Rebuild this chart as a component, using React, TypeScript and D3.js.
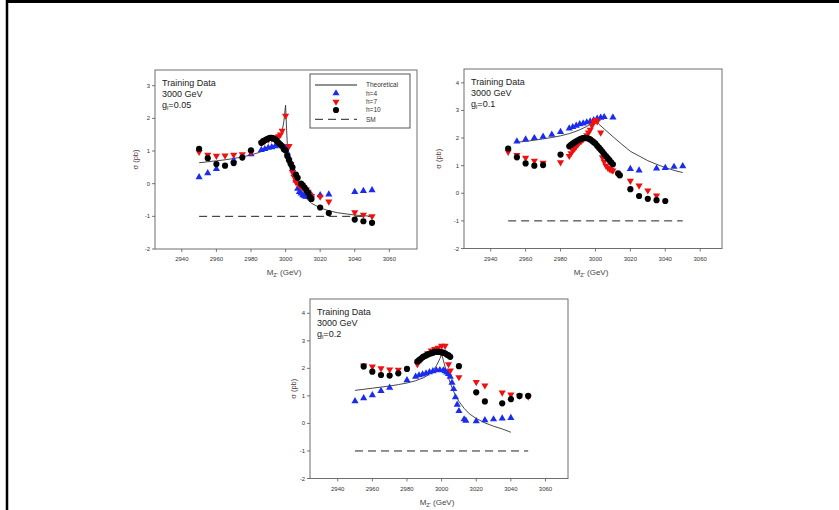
import React from 'react';
import * as d3 from 'd3';

type P = [number, number];

const xTicks = [2940, 2960, 2980, 3000, 3020, 3040, 3060];
const yTicks1 = [-2, -1, 0, 1, 2, 3];
const yTicks23 = [-2, -1, 0, 1, 2, 3, 4];
const smRange: P[] = [[2950, -1], [3050, -1]];

// ---- Panel 1 : g_l = 0.05 ----
const p1Theory: P[] = [[2950,0.64],[2955,0.67],[2960,0.70],[2965,0.73],[2970,0.77],[2975,0.82],[2980,0.88],[2985,0.96],[2990,1.07],[2993,1.17],[2995,1.27],[2997,1.45],[2998,1.6],[2999,1.9],[3000,2.4],[3000.5,1.8],[3001,1.2],[3002,0.85],[3003,0.6],[3004,0.4],[3006,0.08],[3008,-0.16],[3010,-0.33],[3012,-0.46],[3015,-0.6],[3020,-0.74],[3025,-0.83],[3030,-0.89],[3040,-0.96],[3050,-1.0]];
const p1H4: P[] = [[2950,0.2],[2955,0.32],[2960,0.45],[2970,0.72],[2980,0.9],[2986,1.03],[2988,1.06],[2990,1.1],[2992,1.12],[2994,1.15],[2996,1.18],[2998,1.15],[3000,1.1],[3001,0.95],[3002,0.8],[3003,0.65],[3004,0.45],[3005,0.3],[3006,0.1],[3007,-0.15],[3008,-0.25],[3009,-0.3],[3010,-0.35],[3011,-0.38],[3012,-0.4],[3013,-0.38],[3014,-0.35],[3015,-0.35],[3020,-0.35],[3025,-0.33],[3040,-0.25],[3045,-0.22],[3050,-0.2]];
const p1H7: P[] = [[2950,0.97],[2955,0.88],[2960,0.85],[2965,0.86],[2970,0.88],[2975,0.9],[2980,0.95],[2986,1.25],[2988,1.3],[2990,1.35],[2992,1.38],[2994,1.42],[2996,1.45],[2997,1.5],[2998,1.62],[3000,2.08],[3002,1.15],[3003,0.6],[3004,0.35],[3005,0.2],[3006,0.05],[3007,0.0],[3008,-0.05],[3009,-0.08],[3010,-0.12],[3012,-0.18],[3013,-0.25],[3014,-0.35],[3015,-0.38],[3020,-0.4],[3025,-0.55],[3040,-0.88],[3045,-0.95],[3050,-1.0]];
const p1H10: P[] = [[2950,1.07],[2955,0.78],[2960,0.6],[2965,0.55],[2970,0.63],[2975,0.8],[2980,1.02],[2986,1.25],[2987,1.3],[2988,1.33],[2989,1.36],[2990,1.38],[2991,1.4],[2992,1.4],[2993,1.38],[2994,1.36],[2995,1.3],[2996,1.25],[2997,1.2],[2998,1.15],[2999,1.05],[3000,1.02],[3001,0.85],[3002,0.72],[3003,0.6],[3004,0.5],[3006,0.28],[3007,0.18],[3009,0.0],[3010,-0.05],[3011,-0.12],[3012,-0.2],[3013,-0.28],[3014,-0.4],[3015,-0.47],[3020,-0.73],[3025,-0.9],[3040,-1.1],[3045,-1.15],[3050,-1.2]];

// ---- Panel 2 : g_l = 0.1 ----
const p2Theory: P[] = [[2955,1.85],[2960,1.88],[2965,1.92],[2970,1.97],[2975,2.02],[2980,2.08],[2985,2.16],[2990,2.27],[2995,2.42],[2998,2.54],[3000,2.63],[3002,2.5],[3005,2.33],[3010,2.05],[3015,1.78],[3020,1.52],[3025,1.35],[3030,1.18],[3035,1.05],[3040,0.93],[3045,0.83],[3050,0.75]];
const p2H4: P[] = [[2955,1.88],[2960,1.95],[2965,2.0],[2970,2.05],[2975,2.12],[2980,2.22],[2985,2.35],[2987,2.4],[2989,2.45],[2991,2.5],[2993,2.53],[2995,2.57],[2997,2.6],[2999,2.65],[3001,2.7],[3003,2.74],[3005,2.76],[3010,2.75],[3020,0.88],[3025,0.83],[3035,0.9],[3040,0.92],[3045,0.96],[3050,0.98]];
const p2H7: P[] = [[2950,1.5],[2955,1.38],[2960,1.28],[2965,1.18],[2970,1.1],[2980,1.12],[2985,1.35],[2986,1.45],[2987,1.55],[2988,1.62],[2989,1.7],[2990,1.78],[2991,1.85],[2992,1.9],[2993,1.96],[2994,2.02],[2995,2.1],[2996,2.2],[2997,2.3],[2998,2.45],[2999,2.58],[3000,2.65],[3001,2.6],[3003,2.2],[3004,1.3],[3005,1.15],[3006,1.0],[3007,0.93],[3008,0.88],[3009,0.85],[3010,0.82],[3013,0.68],[3020,0.45],[3025,0.28],[3030,0.1],[3035,-0.08]];
const p2H10: P[] = [[2950,1.62],[2955,1.3],[2960,1.08],[2965,1.0],[2970,1.02],[2980,1.4],[2985,1.7],[2986,1.75],[2987,1.8],[2988,1.84],[2989,1.88],[2990,1.92],[2991,1.95],[2992,1.98],[2993,2.0],[2994,2.0],[2995,2.0],[2996,1.98],[2997,1.95],[2998,1.9],[2999,1.85],[3000,1.8],[3001,1.72],[3002,1.65],[3003,1.58],[3004,1.5],[3005,1.42],[3006,1.35],[3007,1.27],[3008,1.2],[3009,1.12],[3010,1.05],[3013,0.72],[3014,0.65],[3020,0.15],[3025,-0.1],[3030,-0.2],[3035,-0.25],[3040,-0.28]];

// ---- Panel 3 : g_l = 0.2 ----
const p3Theory: P[] = [[2950,1.2],[2955,1.24],[2960,1.28],[2965,1.32],[2970,1.36],[2975,1.41],[2980,1.47],[2985,1.55],[2990,1.67],[2993,1.8],[2995,1.92],[2997,2.1],[2999,2.35],[3000,2.52],[3001,2.3],[3002,2.05],[3004,1.65],[3006,1.3],[3008,1.02],[3010,0.8],[3013,0.55],[3016,0.35],[3020,0.18],[3025,0.02],[3030,-0.1],[3035,-0.2],[3040,-0.32]];
const p3H4: P[] = [[2950,0.81],[2955,0.92],[2960,1.03],[2965,1.18],[2970,1.3],[2980,1.57],[2985,1.7],[2987,1.75],[2989,1.78],[2991,1.82],[2993,1.86],[2995,1.9],[2997,1.93],[2999,1.94],[3001,1.93],[3002,1.9],[3003,1.85],[3004,1.8],[3005,1.7],[3006,1.48],[3007,1.25],[3008,0.95],[3009,0.68],[3010,0.45],[3013,0.15],[3014,0.1],[3020,0.08],[3025,0.12],[3030,0.15],[3035,0.18],[3040,0.2]];
const p3H7: P[] = [[2955,2.1],[2960,2.07],[2965,2.0],[2970,1.96],[2975,1.95],[2986,2.15],[2988,2.3],[2990,2.45],[2992,2.55],[2994,2.65],[2996,2.7],[2998,2.75],[3000,2.82],[3002,2.82],[3004,2.15],[3005,1.92],[3010,1.68],[3020,1.5],[3025,1.38],[3035,1.12],[3040,1.05],[3045,1.0],[3050,0.97]];
const p3H10: P[] = [[2955,2.07],[2960,1.88],[2965,1.76],[2970,1.74],[2975,1.82],[2980,1.98],[2986,2.25],[2987,2.3],[2988,2.35],[2989,2.4],[2990,2.44],[2991,2.47],[2992,2.5],[2993,2.53],[2994,2.55],[2995,2.57],[2996,2.6],[2997,2.6],[2998,2.6],[2999,2.6],[3000,2.58],[3001,2.57],[3002,2.55],[3003,2.5],[3004,2.47],[3005,2.42],[3010,2.08],[3020,1.13],[3025,0.8],[3035,0.73],[3040,0.88],[3045,1.0],[3050,1.0]];

const legendLabels = ['Theoretical', 'h=4', 'h=7', 'h=10', 'SM'];

const BLUE = '#1a2cf0';
const RED = '#f01010';
const FONT = 'Liberation Sans, Arial, sans-serif';

interface PanelCfg {
  left: number; top: number; right: number; bottom: number;
  xDom: [number, number]; yDom: [number, number]; yTicks: number[];
  glabel: string; theory: P[]; h4: P[]; h7: P[]; h10: P[];
  yTitleX: number; legend: boolean;
}

const panels: PanelCfg[] = [
  { left: 155, top: 70, right: 417, bottom: 249, xDom: [2924.5, 3076], yDom: [-2, 3.48], yTicks: yTicks1,
    glabel: '0.05', theory: p1Theory, h4: p1H4, h7: p1H7, h10: p1H10, yTitleX: 138, legend: true },
  { left: 464, top: 69, right: 722, bottom: 248.5, xDom: [2924.7, 3072.5], yDom: [-2, 4.5], yTicks: yTicks23,
    glabel: '0.1', theory: p2Theory, h4: p2H4, h7: p2H7, h10: p2H10, yTitleX: 441, legend: false },
  { left: 310, top: 299, right: 568, bottom: 478.5, xDom: [2924, 3073], yDom: [-2, 4.52], yTicks: yTicks23,
    glabel: '0.2', theory: p3Theory, h4: p3H4, h7: p3H7, h10: p3H10, yTitleX: 296, legend: false },
];

const triUp = d3.symbol(d3.symbolTriangle, 22)() as string;
const circ = d3.symbol(d3.symbolCircle, 30)() as string;

function Panel({ c }: { c: PanelCfg }) {
  const x = d3.scaleLinear().domain(c.xDom).range([c.left, c.right]);
  const y = d3.scaleLinear().domain(c.yDom).range([c.bottom, c.top]);
  const line = d3.line<P>().x(d => x(d[0])).y(d => y(d[1]));
  const midY = (c.top + c.bottom) / 2;
  const midX = (c.left + c.right) / 2 - 2;
  return (
    <g fontFamily={FONT}>
      <rect x={c.left} y={c.top} width={c.right - c.left} height={c.bottom - c.top} fill="#fff" stroke="#6e6e6e" strokeWidth={1} />
      {c.yTicks.map(t => (
        <g key={'y' + t}>
          <line x1={c.left - 3} x2={c.left} y1={y(t)} y2={y(t)} stroke="#555" strokeWidth={0.8} />
          <text x={c.left - 5} y={y(t) + 2} fontSize={6} textAnchor="end" fill="#333">{t}</text>
        </g>
      ))}
      {xTicks.map(t => (
        <g key={'x' + t}>
          <line x1={x(t)} x2={x(t)} y1={c.bottom} y2={c.bottom + 3} stroke="#555" strokeWidth={0.8} />
          <text x={x(t)} y={c.bottom + 12} fontSize={6} textAnchor="middle" fill="#333">{t}</text>
        </g>
      ))}
      <text transform={`translate(${c.yTitleX},${midY}) rotate(-90)`} fontSize={7.5} textAnchor="middle" fill="#5a4040">σ (pb)</text>
      <text x={midX} y={c.bottom + 26} fontSize={8} textAnchor="middle" fill="#444">
        M<tspan fontSize={5.5} dy={2}>Z'</tspan><tspan dy={-2}> (GeV)</tspan>
      </text>
      <path d={line(smRange) as string} fill="none" stroke="#222" strokeWidth={1} strokeDasharray="8,5" />
      <path d={line(c.theory) as string} fill="none" stroke="#333" strokeWidth={0.9} />
      {c.h4.map((d, i) => <path key={'b' + i} d={triUp} transform={`translate(${x(d[0])},${y(d[1])})`} fill={BLUE} />)}
      {c.h7.map((d, i) => <path key={'r' + i} d={triUp} transform={`translate(${x(d[0])},${y(d[1])}) rotate(180)`} fill={RED} />)}
      {c.h10.map((d, i) => <path key={'k' + i} d={circ} transform={`translate(${x(d[0])},${y(d[1])})`} fill="#000" />)}
      <text x={c.left + 7} y={c.top + 16} fontSize={9} fill="#222">Training Data</text>
      <text x={c.left + 7} y={c.top + 27} fontSize={9} fill="#222">3000 GeV</text>
      <text x={c.left + 7} y={c.top + 38} fontSize={9} fill="#222">g<tspan fontSize={6} dy={2}>l</tspan><tspan dy={-2}>={c.glabel}</tspan></text>
      {c.legend && (
        <g>
          <rect x={310} y={74} width={100} height={54} fill="#fff" stroke="#444" strokeWidth={0.9} />
          <line x1={315} x2={357} y1={85} y2={85} stroke="#222" strokeWidth={1} />
          <path d={triUp} transform="translate(336,93.3)" fill={BLUE} />
          <path d={triUp} transform="translate(336,101.7) rotate(180)" fill={RED} />
          <path d={circ} transform="translate(336,110)" fill="#000" />
          <line x1={315} x2={357} y1={119.3} y2={119.3} stroke="#222" strokeWidth={1} strokeDasharray="8,5" />
          {legendLabels.map((l, i) => (
            <text key={l} x={366} y={[85, 93.3, 101.7, 110, 119.3][i] + 2.2} fontSize={6.5} fill="#333">{l}</text>
          ))}
        </g>
      )}
    </g>
  );
}

export default function App() {
  return (
    <svg width={839} height={510} style={{ position: 'absolute', left: 0, top: 0, background: '#fff' }}>
      <rect x={0} y={0} width={839} height={510} fill="#fff" />
      <line x1={6} x2={839} y1={1.5} y2={1.5} stroke="#000" strokeWidth={3} />
      <line x1={7} x2={7} y1={0} y2={510} stroke="#000" strokeWidth={2.5} />
      {panels.map((c, i) => <Panel key={i} c={c} />)}
    </svg>
  );
}
